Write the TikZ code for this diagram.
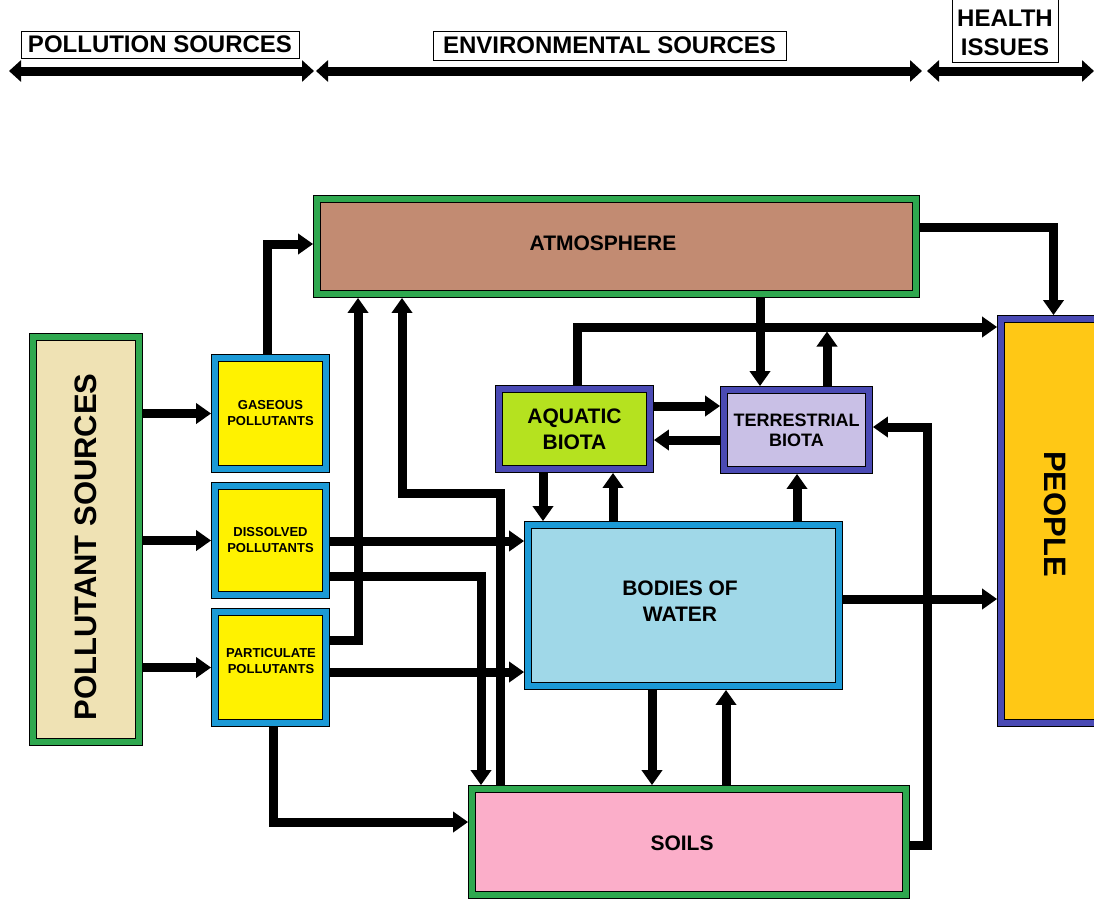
\documentclass[tikz,border=0pt]{standalone}
\usepackage{fontspec}
\setmainfont{Liberation Sans}
\usetikzlibrary{arrows.meta}
\definecolor{bandG}{HTML}{2FA84F}
\definecolor{bandB}{HTML}{1C9AD6}
\definecolor{bandP}{HTML}{4A4AB4}
\definecolor{cAtm}{HTML}{C28B72}
\definecolor{cSrc}{HTML}{EFE2B4}
\definecolor{cYel}{HTML}{FFF200}
\definecolor{cAqu}{HTML}{B5E21F}
\definecolor{cTer}{HTML}{C9C0E6}
\definecolor{cBod}{HTML}{A0D8E8}
\definecolor{cSoi}{HTML}{FBAEC9}
\definecolor{cPpl}{HTML}{FFC815}
\begin{document}
\begin{tikzpicture}[x=1pt,y=-1pt,
  box/.style 2 args={draw=black, line width=1.1pt, double=#1, double distance=6pt, fill=#2, inner sep=0pt, outer sep=4.1pt},
  hbox/.style={draw=black, line width=0.8pt, fill=white, inner sep=0pt, font=\fontsize{24}{29}\selectfont\bfseries, align=center},
  hdrtxt/.style={font=\fontsize{24}{29}\selectfont\bfseries, align=center},
  bigtxt/.style={font=\fontsize{21}{26}\selectfont\bfseries, align=center},
  midtxt/.style={font=\fontsize{18}{20}\selectfont\bfseries, align=center},
  smalltxt/.style={font=\fontsize{13}{16}\selectfont\bfseries, align=center},
  hugetxt/.style={font=\fontsize{31}{36}\selectfont\bfseries},
  ar/.style={line width=9pt, line join=miter, -{Triangle[length=15pt,width=20pt]}},
  dar/.style={line width=9pt, {Triangle[length=12pt,width=21pt]}-{Triangle[length=12pt,width=21pt]}}
]
\useasboundingbox (0,0) rectangle (1094,900);
\clip (0,0) rectangle (1094,900);
\fill[white] (0,0) rectangle (1094,900);

% header
\node[hbox, minimum width=278pt, minimum height=27pt] (h1) at (160,44.5) {POLLUTION SOURCES};
\node[hbox, minimum width=353pt, minimum height=29pt] (h2) at (609.5,45.5) {ENVIRONMENTAL SOURCES};
\node[hbox, minimum width=106pt, minimum height=67pt] (h3) at (1005,28.5) {};
\node[hdrtxt] (h3T) at (1005,32.5) {HEALTH\\ISSUES};
\coordinate (a1) at (9,71); \coordinate (a2) at (314,71);
\coordinate (b1) at (316,71); \coordinate (b2) at (922,71);
\coordinate (c1) at (927,71); \coordinate (c2) at (1094,71);
\draw[dar] (a1) -- (a2);
\draw[dar] (b1) -- (b2);
\draw[dar] (c1) -- (c2);

% boxes
\node[box={bandG}{cAtm}, minimum width=598.6pt, minimum height=94.6pt] (atm) at (616.5,246.5) {};
\node[bigtxt] (atmT) at (603,243) {ATMOSPHERE};
\node[box={bandG}{cSrc}, minimum width=105.6pt, minimum height=404.6pt] (src) at (86,539.5) {};
\node[hugetxt, rotate=90] (srcT) at (86,547) {POLLUTANT SOURCES};
\node[box={bandB}{cYel}, minimum width=110.6pt, minimum height=110.6pt, smalltxt] (gas) at (270.5,413.5) {GASEOUS\\POLLUTANTS};
\node[box={bandB}{cYel}, minimum width=110.6pt, minimum height=108.6pt, smalltxt] (dis) at (270.5,540.5) {DISSOLVED\\POLLUTANTS};
\node[box={bandB}{cYel}, minimum width=110.6pt, minimum height=110.6pt] (par) at (270.5,667.5) {};
\node[smalltxt] (parT) at (271,661) {PARTICULATE\\POLLUTANTS};
\node[box={bandP}{cAqu}, minimum width=150.6pt, minimum height=79.6pt, bigtxt] (aqu) at (574.5,429) {AQUATIC\\BIOTA};
\node[box={bandP}{cTer}, minimum width=144.6pt, minimum height=79.6pt, midtxt] (ter) at (796.5,430) {TERRESTRIAL\\BIOTA};
\node[box={bandB}{cBod}, minimum width=310.6pt, minimum height=160.6pt] (bod) at (683.5,605.5) {};
\node[bigtxt] (bodT) at (680,601) {BODIES OF\\WATER};
\node[box={bandG}{cSoi}, minimum width=433.6pt, minimum height=105.6pt] (soi) at (689,842) {};
\node[bigtxt] (soiT) at (682,843) {SOILS};
\node[box={bandP}{cPpl}, minimum width=104.6pt, minimum height=403.6pt] (ppl) at (1053.5,521) {};
\node[hugetxt, rotate=-90] (pplT) at (1055,514) {PEOPLE};

% connectors
\draw[ar] (src.east |- gas.west) -- (gas.west);
\draw[ar] (src.east |- dis.west) -- (dis.west);
\draw[ar] (src.east |- par.west) -- (par.west);
\draw[ar] (267,0 |- gas.north) |- (atm.west |- 0,244);
\draw[ar] (par.east |- 0,640) -| (358,0 |- atm.south);
\draw[ar] (500,0 |- soi.north) |- (402,493) -- (402,0 |- atm.south);
\draw[ar] (dis.east |- 0,541) -- (bod.west |- 0,541);
\draw[ar] (dis.east |- 0,576) -| (481,0 |- soi.north);
\draw[ar] (par.east |- 0,672) -- (bod.west |- 0,672);
\draw[ar] (273,0 |- par.south) |- (soi.west |- 0,822);
\draw[ar] (atm.east |- 0,227) -| (ppl.north);
\draw[ar] (577,0 |- aqu.north) |- (ppl.west |- 0,327);
\draw[ar] (760,0 |- atm.south) -- (760,0 |- ter.north);
\coordinate (j14) at (827,331.5);
\draw[ar] (827,0 |- ter.north) -- (j14);
\draw[ar] (aqu.east |- 0,406) -- (ter.west |- 0,406);
\draw[ar] (ter.west |- 0,440) -- (aqu.east |- 0,440);
\draw[ar] (543,0 |- aqu.south) -- (543,0 |- bod.north);
\draw[ar] (613,0 |- bod.north) -- (613,0 |- aqu.south);
\draw[ar] (797,0 |- bod.north) -- (797,0 |- ter.south);
\draw[ar] (soi.east |- 0,845) -| (927,427) -- (ter.east |- 0,427);
\draw[ar] (bod.east |- 0,599) -- (ppl.west |- 0,599);
\draw[ar] (652,0 |- bod.south) -- (652,0 |- soi.north);
\draw[ar] (726,0 |- soi.north) -- (726,0 |- bod.south);
\end{tikzpicture}
\end{document}
